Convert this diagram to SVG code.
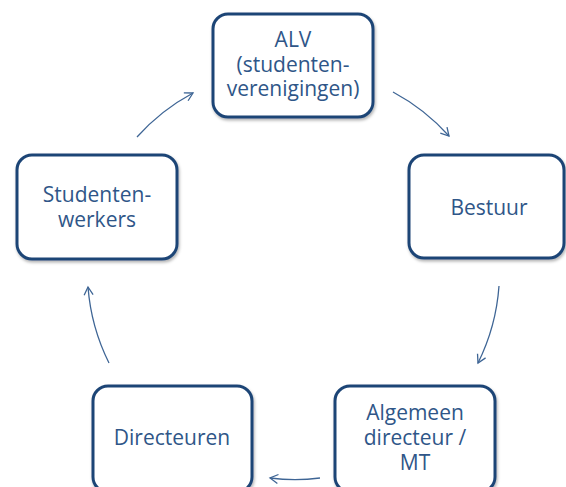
<svg xmlns="http://www.w3.org/2000/svg" width="566" height="487" viewBox="0 0 566 487">
<style>
.box{fill:#ffffff;stroke:#1f4576;stroke-width:3;filter:url(#sh)}
.lbl{font-family:"Open Sans","DejaVu Sans",sans-serif;font-size:21px;fill:#2f5688;text-anchor:middle}
.arc{fill:none;stroke:#3e6595;stroke-width:1.3;marker-end:url(#ah)}
</style>
<defs>
<filter id="sh" x="-10%" y="-10%" width="130%" height="130%">
<feDropShadow dx="1" dy="2" stdDeviation="1.5" flood-color="#000" flood-opacity="0.3"/>
</filter>
<marker id="ah" markerUnits="userSpaceOnUse" markerWidth="12" markerHeight="12" refX="9" refY="5" orient="auto" viewBox="0 0 12 10">
<path d="M1,0.5 L9,5 L1,9.5" fill="none" stroke="#3e6595" stroke-width="1.3"/>
</marker>
</defs>
<g id="connectors">
<path class="arc" d="M137,137 A206,206 0 0 1 193,93"/>
<path class="arc" d="M393,92 A206,206 0 0 1 449,136"/>
<path class="arc" d="M499,286 A206,206 0 0 1 478,363"/>
<path class="arc" d="M320,478 A206,206 0 0 1 270,478"/>
<path class="arc" d="M109,363 A206,206 0 0 1 88,287"/>
</g>
<g id="alv">
<rect class="box" x="213" y="14" width="160" height="103" rx="15"/>
<text class="lbl" x="293" y="47">ALV</text>
<text class="lbl" x="293" y="72">(studenten-</text>
<text class="lbl" x="293" y="96">verenigingen)</text>
</g>
<g id="bestuur">
<rect class="box" x="409" y="155" width="155" height="103" rx="15"/>
<text class="lbl" x="489" y="215">Bestuur</text>
</g>
<g id="algemeen">
<rect class="box" x="335" y="386" width="160" height="106" rx="15"/>
<text class="lbl" x="415" y="420">Algemeen</text>
<text class="lbl" x="415" y="445">directeur /</text>
<text class="lbl" x="415" y="470">MT</text>
</g>
<g id="directeuren">
<rect class="box" x="93" y="386" width="159" height="106" rx="15"/>
<text class="lbl" x="172" y="445">Directeuren</text>
</g>
<g id="studentenwerkers">
<rect class="box" x="17" y="155" width="160" height="104" rx="15"/>
<text class="lbl" x="97" y="202">Studenten-</text>
<text class="lbl" x="97" y="227">werkers</text>
</g>
</svg>
